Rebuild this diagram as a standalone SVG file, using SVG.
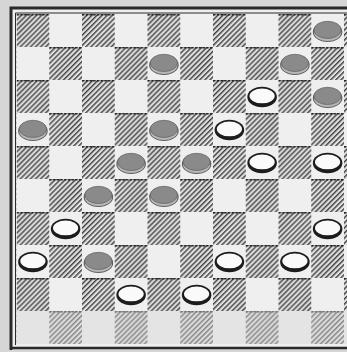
<svg xmlns="http://www.w3.org/2000/svg" width="347" height="352" viewBox="0 0 347 352">
<style>
.edge{stroke:#2a2a2a;fill:none}
</style>
<defs>
<pattern id="hatch" patternUnits="userSpaceOnUse" width="3.6" height="3.6" patternTransform="rotate(45)">
<rect width="3.6" height="3.6" fill="#e4e4e4"/>
<rect width="1.4" height="3.6" fill="#3c3c3c"/>
</pattern>
<pattern id="board" patternUnits="userSpaceOnUse" x="16.5" y="14" width="65.5" height="66">
<rect x="0" y="0" width="32.75" height="33" fill="url(#hatch)"/>
<rect x="32.75" y="33" width="32.75" height="33" fill="url(#hatch)"/>
<line x1="0" y1="0.8" x2="32.75" y2="0.8" stroke="#222" stroke-width="1.6" stroke-dasharray="2.5 1.2"/>
<line x1="32.75" y1="33.8" x2="65.5" y2="33.8" stroke="#222" stroke-width="1.6" stroke-dasharray="2.5 1.2"/>
</pattern>
<g id="gray">
<ellipse cx="0" cy="1.5" rx="14.8" ry="10" fill="#5e5e5e"/>
<ellipse cx="0" cy="2" rx="13.6" ry="8.6" fill="#b8b8b8"/>
<ellipse cx="0" cy="-0.6" rx="13.6" ry="8.6" fill="#8a8a8a" stroke="#666" stroke-width="0.8"/>
</g>
<g id="white">
<ellipse cx="0" cy="0.5" rx="14.8" ry="10.2" fill="#1c1c1c"/>
<ellipse cx="0" cy="-0.6" rx="12.6" ry="7.4" fill="#fafafa"/>
</g>
</defs>
<rect width="347" height="352" fill="#d6d6d6"/>
<rect x="11" y="8" width="336" height="341" fill="#eeeeee"/>
<rect x="16.5" y="14" width="330.5" height="330" fill="#efefef"/>
<rect x="16.5" y="14" width="330.5" height="330" fill="url(#board)"/>
<rect x="16.5" y="311" width="330.5" height="33" fill="#d8d8d8" opacity="0.45"/>
<path class="edge" d="M11 350 V8 H347" stroke-width="3"/>
<line class="edge" x1="11" y1="348" x2="347" y2="348" stroke-width="2.5"/>
<line class="edge" x1="15.5" y1="13" x2="15.5" y2="345" stroke-width="1"/>
<line class="edge" x1="15.5" y1="13" x2="347" y2="13" stroke-width="1"/>
<g id="pieces">
<g id="p-r0c9"><use href="#gray" x="327.6" y="30.5"/></g>
<g id="p-r1c4"><use href="#gray" x="163.9" y="63.5"/></g>
<g id="p-r1c8"><use href="#gray" x="294.9" y="63.5"/></g>
<g id="p-r2c7"><use href="#white" x="262.1" y="96.5"/></g>
<g id="p-r2c9"><use href="#gray" x="327.6" y="96.5"/></g>
<g id="p-r3c0"><use href="#gray" x="32.9" y="129.5"/></g>
<g id="p-r3c4"><use href="#gray" x="163.9" y="129.5"/></g>
<g id="p-r3c6"><use href="#white" x="229.4" y="129.5"/></g>
<g id="p-r4c3"><use href="#gray" x="131.1" y="162.5"/></g>
<g id="p-r4c5"><use href="#gray" x="196.6" y="162.5"/></g>
<g id="p-r4c7"><use href="#white" x="262.1" y="162.5"/></g>
<g id="p-r4c9"><use href="#white" x="327.6" y="162.5"/></g>
<g id="p-r5c2"><use href="#gray" x="98.4" y="195.5"/></g>
<g id="p-r5c4"><use href="#gray" x="163.9" y="195.5"/></g>
<g id="p-r6c1"><use href="#white" x="65.6" y="228.5"/></g>
<g id="p-r6c9"><use href="#white" x="327.6" y="228.5"/></g>
<g id="p-r7c0"><use href="#white" x="32.9" y="261.5"/></g>
<g id="p-r7c2"><use href="#gray" x="98.4" y="261.5"/></g>
<g id="p-r7c6"><use href="#white" x="229.4" y="261.5"/></g>
<g id="p-r7c8"><use href="#white" x="294.9" y="261.5"/></g>
<g id="p-r8c3"><use href="#white" x="131.1" y="294.5"/></g>
<g id="p-r8c5"><use href="#white" x="196.6" y="294.5"/></g>
</g>
</svg>
